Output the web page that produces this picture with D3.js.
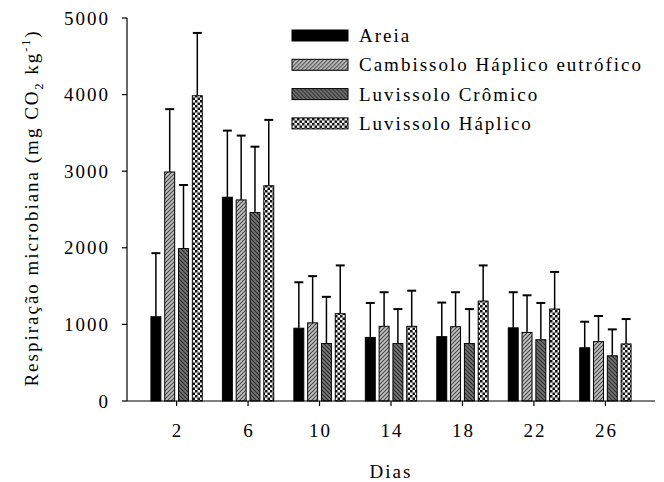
<!DOCTYPE html>
<html>
<head>
<meta charset="utf-8">
<script src="https://cdn.jsdelivr.net/npm/d3@7"></script>
<style>
  body { margin: 0; background: #fff; }
  svg text { font-family: "Liberation Serif", "Times New Roman", serif; fill: #000; }
</style>
</head>
<body>
<svg id="chart" width="664" height="482"></svg>
<script>
// dados
const dias = ["2", "6", "10", "14", "18", "22", "26"];
const solos = ["Areia", "Cambissolo Háplico eutrófico", "Luvissolo Crômico", "Luvissolo Háplico"];
const areia      = [1100, 2660, 950, 830, 840, 955, 695];
const cambissolo = [2990, 2625, 1020, 975, 970, 895, 775];
const crom       = [1990, 2460, 750, 750, 750, 800, 590];
const haplico    = [3985, 2810, 1140, 975, 1305, 1200, 745];
const erroAreia  = [830, 870, 600, 450, 445, 465, 340];
const erroCamb   = [820, 840, 610, 445, 450, 485, 335];
const erroCrom   = [830, 860, 610, 450, 450, 480, 345];
const erroHap    = [820, 860, 630, 465, 465, 485, 325];
const yTicks = [0, 1000, 2000, 3000, 4000, 5000];

const valores = [areia, cambissolo, crom, haplico];
const erros = [erroAreia, erroCamb, erroCrom, erroHap];

const svg = d3.select("#chart");
const x0 = 127, x1 = 655, yTop = 18, yBase = 401;

const x = d3.scaleBand().domain(dias).range([x0, x1]).paddingInner(0).paddingOuter(0.194);
const xs = d3.scaleBand().domain(solos).range([-27.6, 27.6]).paddingInner(0.28).paddingOuter(0.14);
const y = d3.scaleLinear().domain([0, 5000]).range([yBase, yTop]);

// padrões de preenchimento
const defs = svg.append("defs");
const pCamb = defs.append("pattern").attr("id", "p-camb").attr("patternUnits", "userSpaceOnUse")
  .attr("width", 4).attr("height", 4);
pCamb.append("rect").attr("width", 4).attr("height", 4).attr("fill", "#c4c4c4");
pCamb.append("path").attr("d", "M-1,1 L1,-1 M0,4 L4,0 M3,5 L5,3").attr("stroke", "#4a4a4a").attr("stroke-width", 1.2);

const pCrom = defs.append("pattern").attr("id", "p-crom").attr("patternUnits", "userSpaceOnUse")
  .attr("width", 4).attr("height", 4);
pCrom.append("rect").attr("width", 4).attr("height", 4).attr("fill", "#777");
pCrom.append("path").attr("d", "M-1,3 L1,5 M0,0 L4,4 M3,-1 L5,1").attr("stroke", "#2a2a2a").attr("stroke-width", 1.2);

const pHap = defs.append("pattern").attr("id", "p-hap").attr("patternUnits", "userSpaceOnUse")
  .attr("width", 5).attr("height", 5);
pHap.append("rect").attr("width", 5).attr("height", 5).attr("fill", "#f4f4f4");
pHap.append("rect").attr("width", 2.5).attr("height", 2.5).attr("fill", "#111");
pHap.append("rect").attr("x", 2.5).attr("y", 2.5).attr("width", 2.5).attr("height", 2.5).attr("fill", "#111");

const fills = ["#000", "url(#p-camb)", "url(#p-crom)", "url(#p-hap)"];

// barras e erros
const rows = [];
dias.forEach((d, i) => solos.forEach((s, j) => rows.push({ dia: d, solo: s, j, v: valores[j][i], e: erros[j][i] })));

const gBars = svg.append("g");
gBars.selectAll("line.err")
  .data(rows).enter().append("line")
  .attr("class", "err")
  .attr("x1", d => x(d.dia) + x.bandwidth() / 2 + xs(d.solo) + xs.bandwidth() / 2)
  .attr("x2", d => x(d.dia) + x.bandwidth() / 2 + xs(d.solo) + xs.bandwidth() / 2)
  .attr("y1", d => y(d.v)).attr("y2", d => y(d.v + d.e))
  .attr("stroke", "#000").attr("stroke-width", 1.5);

gBars.selectAll("line.cap")
  .data(rows).enter().append("line")
  .attr("class", "cap")
  .attr("x1", d => x(d.dia) + x.bandwidth() / 2 + xs(d.solo) + 0.5)
  .attr("x2", d => x(d.dia) + x.bandwidth() / 2 + xs(d.solo) + xs.bandwidth() - 0.5)
  .attr("y1", d => y(d.v + d.e)).attr("y2", d => y(d.v + d.e))
  .attr("stroke", "#000").attr("stroke-width", 2);

gBars.selectAll("rect.bar")
  .data(rows).enter().append("rect")
  .attr("class", "bar")
  .attr("x", d => x(d.dia) + x.bandwidth() / 2 + xs(d.solo))
  .attr("y", d => y(d.v))
  .attr("width", xs.bandwidth())
  .attr("height", d => yBase - y(d.v))
  .attr("fill", d => fills[d.j])
  .attr("stroke", "#000").attr("stroke-width", 1);

// eixos
const fontAxis = "19px";
svg.append("line").attr("x1", x0).attr("x2", x1).attr("y1", yBase).attr("y2", yBase)
  .attr("stroke", "#000").attr("stroke-width", 1.2);
svg.append("line").attr("x1", x0).attr("x2", x0).attr("y1", yTop).attr("y2", yBase)
  .attr("stroke", "#000").attr("stroke-width", 1.2);

svg.selectAll("line.ytick").data(yTicks).enter().append("line")
  .attr("x1", x0 - 5).attr("x2", x0).attr("y1", d => y(d)).attr("y2", d => y(d))
  .attr("stroke", "#000").attr("stroke-width", 1.2);
svg.selectAll("text.ylab").data(yTicks).enter().append("text")
  .attr("x", 110).attr("y", d => y(d)).attr("dy", "0.35em")
  .attr("text-anchor", "end").style("font-size", fontAxis).style("letter-spacing", "2px")
  .text(d => d);

svg.selectAll("line.xtick").data(dias).enter().append("line")
  .attr("x1", d => x(d) + x.bandwidth() / 2).attr("x2", d => x(d) + x.bandwidth() / 2)
  .attr("y1", yBase).attr("y2", yBase + 5)
  .attr("stroke", "#000").attr("stroke-width", 1.2);
svg.selectAll("text.xlab").data(dias).enter().append("text")
  .attr("x", d => x(d) + x.bandwidth() / 2 + 1).attr("y", 437)
  .attr("text-anchor", "middle").style("font-size", fontAxis).style("letter-spacing", "2px")
  .text(d => d);

svg.append("text").attr("x", 391).attr("y", 478).attr("text-anchor", "middle")
  .style("font-size", fontAxis).style("letter-spacing", "2px").text("Dias");

// título do eixo y
const yt = svg.append("text").attr("transform", "translate(38,208) rotate(-90)")
  .attr("text-anchor", "middle").style("font-size", fontAxis).style("letter-spacing", "2px");
yt.append("tspan").text("Respiração microbiana (mg CO");
yt.append("tspan").attr("dy", 5).style("font-size", "12px").text("2");
yt.append("tspan").attr("dy", -5).text(" kg");
yt.append("tspan").attr("dy", -8).style("font-size", "12px").text("-1");
yt.append("tspan").attr("dy", 8).text(")");

// legenda
const leg = svg.append("g").attr("transform", "translate(292,30)");
const li = leg.selectAll("g").data(solos).enter().append("g")
  .attr("transform", (d, i) => `translate(0,${i * 29.3})`);
li.append("rect").attr("width", 56).attr("height", 11)
  .attr("fill", (d, i) => fills[i]).attr("stroke", "#000").attr("stroke-width", 1);
li.append("text").attr("x", 67).attr("y", 5.5).attr("dy", "0.35em")
  .style("font-size", fontAxis).style("letter-spacing", "2px").text(d => d);
</script>
</body>
</html>
